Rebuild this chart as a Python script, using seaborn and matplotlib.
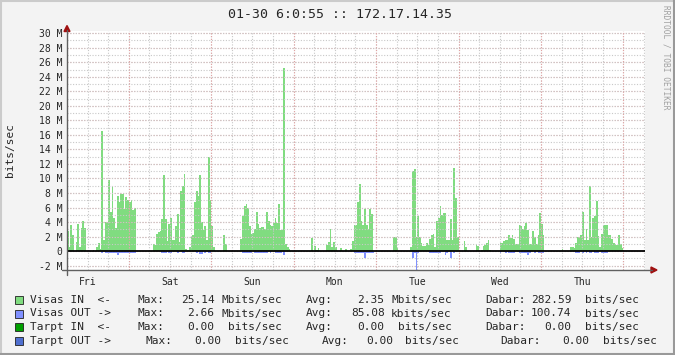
import numpy as np
import pandas as pd
import matplotlib
matplotlib.use("Agg")
import matplotlib.pyplot as plt
import seaborn as sns
from matplotlib.lines import Line2D
from matplotlib.patches import Rectangle, Polygon

# ---------------- data (Mbits/sec, one value per 30 min, per day) ----------------
day_names = ["Fri", "Sat", "Sun", "Mon", "Tue", "Wed", "Thu"]

fri_in = [0, 0, 0, 0, 0, 0, 0, 0, 0, 0, 0, 0,
          2.7, 0.6, 3.6, 2.2, 0, 1.3, 3.7, 0.5, 3.2, 4.1, 3.2, 0,
          0, 0, 0, 0.1, 0, 0.5, 1.1, 0.3, 16.6, 1.5, 4.0, 4.0,
          9.8, 5.4, 8.9, 4.6, 3.2, 7.6, 6.8, 7.8, 7.8, 5.8, 7.4, 7.1]
sat_in = [6.7, 7.0, 5.6, 6.0, 0, 0, 0, 0, 0, 0, 0, 0,
          0, 0, 1.0, 0.8, 2.3, 2.6, 2.8, 4.4, 10.5, 4.4, 1.4, 3.7,
          4.5, 1.5, 1.5, 3.4, 5.1, 1.2, 8.3, 8.9, 10.6, 0.3, 0.1, 0.5,
          2.0, 2.2, 6.7, 8.3, 7.6, 10.5, 4.0, 2.9, 3.5, 1.5, 13.0, 7.0]
sun_in = [3.5, 0.6, 0, 0, 0, 0, 0, 2.2, 1.0, 0, 0, 0,
          0, 0, 0, 0, 0, 1.7, 4.8, 6.2, 6.5, 6.0, 3.4, 2.4,
          2.5, 3.0, 5.4, 3.7, 3.2, 3.3, 3.3, 3.0, 5.4, 4.1, 3.6, 3.4,
          3.9, 4.6, 3.9, 6.5, 2.9, 2.9, 25.14, 1.0, 0.5, 0.3, 0, 0]
mon_in = [0, 0, 0, 0, 0, 0, 0, 0, 0, 0, 1.8, 0,
          0.7, 0.2, 0.4, 0, 0, 0, 0, 0.8, 1.2, 3.1, 0.5, 1.2,
          0.6, 0, 0, 0.4, 0, 0, 0.3, 0, 0, 0.3, 1.4, 3.6,
          3.6, 6.7, 9.2, 4.2, 3.6, 5.8, 3.6, 3.1, 5.8, 5.1, 0, 0]
tue_in = [0, 0, 0, 0, 0, 0, 0, 0, 0, 0, 1.9, 1.9,
          0.4, 0, 0, 0, 0, 0, 0, 0, 0.6, 11.0, 11.3, 2.0,
          4.9, 1.9, 1.1, 0.7, 0.7, 1.1, 0.8, 1.7, 2.2, 2.3, 0.6, 4.1,
          4.6, 6.2, 5.0, 5.3, 5.3, 1.5, 1.5, 4.4, 1.5, 11.5, 7.3, 2.0]
wed_in = [0, 0, 0, 1.4, 0.6, 0, 0, 0, 0, 0, 0.9, 0.7,
          0, 0.1, 0.7, 0.8, 1.1, 1.5, 0.1, 0, 0, 0, 0, 0,
          1.1, 1.1, 1.4, 1.5, 1.5, 2.2, 1.8, 2.2, 1.7, 1.0, 1.0, 3.6,
          3.4, 3.0, 3.4, 3.9, 2.9, 1.0, 1.0, 2.8, 2.0, 1.0, 2.2, 5.2]
thu_in = [3.8, 2.2, 0, 0, 0, 0, 0, 0, 0, 0, 0, 0,
          0.3, 0, 0, 0, 0, 0.6, 0.6, 0.4, 1.1, 1.9, 1.9, 2.2,
          5.4, 1.5, 3.0, 1.5, 8.9, 1.9, 4.6, 4.8, 6.9, 2.1, 0.6, 2.3,
          3.6, 3.6, 3.6, 2.2, 2.2, 1.7, 1.1, 1.0, 0.9, 2.2, 1.0, 0.4]

fri_out = [0, 0, 0, 0, 0, 0, 0, 0, 0, 0, 0, 0,
           0, 0, 0, 0, 0, 0, 0, 0, 0, 0, 0, 0,
           0, 0, 0, 0, 0, 0, 0, 0, 0.2, 0, 0.2, 0.2,
           0.2, 0.2, 0.2, 0.2, 0.2, 0.5, 0.2, 0.2, 0.2, 0.2, 0.2, 0.2]
sat_out = [0.2, 0.2, 0.2, 0.2, 0, 0, 0, 0, 0, 0, 0, 0,
           0, 0, 0, 0, 0, 0, 0, 0.2, 0.2, 0.2, 0, 0.2,
           0.2, 0, 0, 0, 0.2, 0, 0, 0.2, 0.2, 0, 0, 0,
           0, 0, 0, 0.2, 0, 0.4, 0.4, 0, 0.2, 0, 0.2, 0.2]
sun_out = [0, 0, 0, 0, 0, 0, 0, 0, 0, 0, 0, 0,
           0, 0, 0, 0, 0, 0, 0.2, 0.2, 0.2, 0.2, 0.2, 0.2,
           0, 0.2, 0.2, 0.2, 0.2, 0.2, 0.2, 0.2, 0.2, 0, 0.2, 0,
           0, 0.2, 0.2, 0.2, 0.2, 0, 0.5, 0, 0, 0, 0, 0]
mon_out = [0, 0, 0, 0, 0, 0, 0, 0, 0, 0, 0, 0,
           0, 0, 0, 0, 0, 0, 0, 0, 0, 0, 0, 0,
           0, 0, 0, 0, 0, 0, 0, 0, 0, 0, 0, 0.2,
           0.2, 0.2, 0.2, 0.2, 0.3, 0.9, 0.3, 0.2, 0.2, 0.2, 0.2, 0]
tue_out = [0, 0, 0, 0, 0, 0, 0, 0, 0, 0, 0, 0,
           0, 0, 0, 0, 0, 0, 0, 0, 0, 0.9, 0.2, 2.66,
           0.3, 0, 0, 0, 0, 0, 0, 0.2, 0.2, 0.2, 0.2, 0.2,
           0.2, 0.3, 0, 0, 0.6, 0.2, 0, 1.0, 0, 0.2, 0, 0]
wed_out = [0, 0, 0, 0, 0, 0, 0, 0, 0, 0, 0, 0,
           0, 0, 0, 0, 0, 0, 0, 0, 0, 0, 0, 0,
           0.2, 0, 0, 0.2, 0, 0.2, 0.2, 0.2, 0.2, 0, 0, 0.2,
           0.2, 0.2, 0.2, 0.2, 0.6, 0.2, 0, 0, 0.2, 0, 0.2, 0.2]
thu_out = [0.2, 0.2, 0, 0, 0, 0, 0, 0, 0, 0, 0, 0,
           0, 0, 0, 0, 0, 0, 0, 0, 0.2, 0.2, 0.2, 0,
           0.3, 0, 0.2, 0, 0.2, 0.2, 0, 0.2, 0.2, 0.2, 0, 0.2,
           0.2, 0.2, 0.2, 0, 0, 0, 0, 0, 0, 0, 0, 0]

y_ticks = [-2, 0, 2, 4, 6, 8, 10, 12, 14, 16, 18, 20, 22, 24, 26, 28, 30]
y_tick_labels = ["-2 M", "0", "2 M", "4 M", "6 M", "8 M", "10 M", "12 M", "14 M",
                 "16 M", "18 M", "20 M", "22 M", "24 M", "26 M", "28 M", "30 M"]
title_text = "01-30 6:0:55 :: 172.17.14.35"
y_label = "bits/sec"
watermark = "RRDTOOL / TOBI OETIKER"

legend_names = ["Visas IN  <-", "Visas OUT ->", "Tarpt IN  <-", "Tarpt OUT ->"]
legend_colors = ["#80DC80", "#8090FF", "#00A000", "#4F6FCF"]
legend_max = ["25.14", "2.66", "0.00", "0.00"]
legend_max_unit = ["Mbits/sec", "Mbits/sec", "bits/sec", "bits/sec"]
legend_avg = ["2.35", "85.08", "0.00", "0.00"]
legend_avg_unit = ["Mbits/sec", "kbits/sec", "bits/sec", "bits/sec"]
legend_cur = ["282.59", "100.74", "0.00", "0.00"]
legend_cur_unit = ["bits/sec", "bits/sec", "bits/sec", "bits/sec"]

# ---------------- assemble ----------------
in_vals = np.array(fri_in + sat_in + sun_in + mon_in + tue_in + wed_in + thu_in, dtype=float)
out_vals = np.array(fri_out + sat_out + sun_out + mon_out + tue_out + wed_out + thu_out, dtype=float)
n = len(in_vals)
step = 0.5
centers = np.arange(n) * step + step / 2
df = pd.DataFrame({"hour": centers, "vin": in_vals, "vout": -out_vals})

W, H = 675, 355
BACK = "#F3F3F3"
MONO = "DejaVu Sans Mono"

sns.set_style("white")
plt.rcParams["font.family"] = [MONO, "DejaVu Sans"]

fig = plt.figure(figsize=(W / 100, H / 100), dpi=100, facecolor=BACK)


def fx(px):
    return px / W


def fy(py):
    return 1 - py / H


ax = fig.add_axes([fx(67), fy(270), fx(645) - fx(67), fy(31) - fy(270)])
ax.set_facecolor("white")

sns.histplot(data=df, x="hour", weights="vin", bins=n, binrange=(0, n * step),
             color=legend_colors[0], alpha=1, linewidth=0, antialiased=False, ax=ax, zorder=1)
sns.histplot(data=df, x="hour", weights="vout", bins=n, binrange=(0, n * step),
             color=legend_colors[1], alpha=1, linewidth=0, antialiased=False, ax=ax, zorder=1)

x0, x1 = 6.36, 174.3
ax.set_xlim(x0, x1)
ax.set_ylim(-2.6, 30.3)

# grid
ax.set_yticks(y_ticks)
ax.set_yticklabels(y_tick_labels)
ax.set_yticks(np.arange(-2, 31, 1), minor=True)
noon = [24 * i + 12 for i in range(len(day_names))]
ax.set_xticks(noon)
ax.set_xticklabels(day_names)
ax.set_xticks(np.arange(6, 175, 6), minor=True)
ax.xaxis.remove_overlapping_locs = False
ax.yaxis.remove_overlapping_locs = False
ax.set_axisbelow(False)
dot = (0, (1, 1.5))
ax.grid(which="minor", color="#C8C8C8", linestyle=dot, linewidth=0.8)
ax.grid(which="major", axis="y", color="#E2A2A2", linestyle=dot, linewidth=0.8)
ax.grid(which="major", axis="x", visible=False)
for d in range(1, 8):
    ax.axvline(24 * d, color="#E2A2A2", linestyle=dot, linewidth=0.8, zorder=2.6)
ax.axhline(0, color="black", linewidth=1.3, zorder=3)

ax.set_xlabel("")
ax.set_ylabel("")
for s in ax.spines.values():
    s.set_visible(False)
ax.tick_params(axis="y", which="major", labelsize=7, length=3, direction="inout",
               color="#777777", pad=2)
ax.tick_params(axis="y", which="minor", length=2, direction="inout", color="#999999")
ax.tick_params(axis="x", which="major", labelsize=7, length=0, pad=5)
ax.tick_params(axis="x", which="minor", length=2, direction="inout", color="#999999")
for lab in ax.get_xticklabels() + ax.get_yticklabels():
    lab.set_fontfamily(MONO)

# axes lines and arrows
AX_COL = "#606060"
ARROW = "#A01010"
fig.add_artist(Line2D([fx(67), fx(67)], [fy(275), fy(30)], color=AX_COL, linewidth=1.0))
fig.add_artist(Line2D([fx(62), fx(652)], [fy(270), fy(270)], color=AX_COL, linewidth=1.0))
fig.add_artist(Polygon([[fx(64), fy(31.5)], [fx(70), fy(31.5)], [fx(67), fy(25.5)]],
                       closed=True, color=ARROW, transform=fig.transFigure))
fig.add_artist(Polygon([[fx(651), fy(267)], [fx(651), fy(273)], [fx(657), fy(270)]],
                       closed=True, color=ARROW, transform=fig.transFigure))

# texts
fig.text(fx(340), fy(14), title_text, ha="center", va="center", fontsize=9.5, family=MONO)
fig.text(fx(10), fy(150), y_label, ha="center", va="center", rotation=90, fontsize=8, family=MONO)
fig.text(fx(666), fy(57), watermark, ha="center", va="center", rotation=-90,
         fontsize=5.7, family=MONO, color="#A0A0A0")

row_y = [300, 313.5, 327, 341]
row_x = [
    [30, 137, 181, 221, 306, 357, 391, 485, 531, 585],
    [30, 137, 187.5, 221, 306, 351, 391, 485, 531, 585],
    [30, 137, 187.5, 228, 306, 357, 398, 485, 544, 585],
    [30, 145, 194, 235, 322, 366, 405, 500, 562, 603],
]
for i in range(4):
    y = row_y[i]
    fig.add_artist(Rectangle((fx(15), fy(y + 4)), fx(8), fy(0) - fy(8),
                             facecolor=legend_colors[i], edgecolor="#202020", linewidth=0.6,
                             transform=fig.transFigure))
    tokens = [legend_names[i], "Max:", legend_max[i], legend_max_unit[i], "Avg:",
              legend_avg[i], legend_avg_unit[i], "Dabar:", legend_cur[i], legend_cur_unit[i]]
    for tx, tk in zip(row_x[i], tokens):
        fig.text(fx(tx), fy(y), tk, ha="left", va="center", fontsize=8, family=MONO)

# canvas shading border
fig.add_artist(Line2D([0, 1], [fy(0.5), fy(0.5)], color="#CBCBCB", linewidth=1.5))
fig.add_artist(Line2D([fx(0.5), fx(0.5)], [0, 1], color="#CBCBCB", linewidth=1.5))
fig.add_artist(Line2D([0, 1], [fy(354), fy(354)], color="#999999", linewidth=1.5))
fig.add_artist(Line2D([fx(674), fx(674)], [0, 1], color="#999999", linewidth=1.5))

fig.savefig("out.png", dpi=100, facecolor=BACK)
